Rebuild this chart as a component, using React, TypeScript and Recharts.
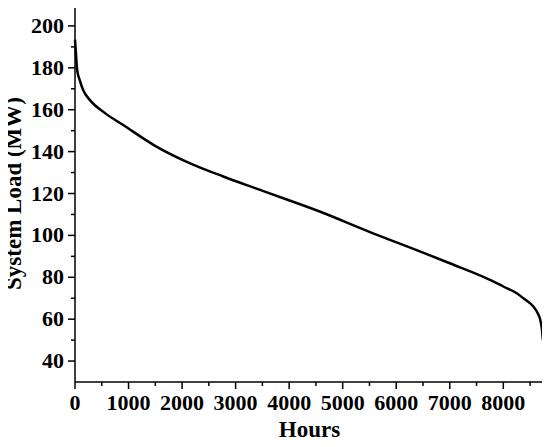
import React from "react";
import { LineChart, Line, XAxis, YAxis } from "recharts";

// 부하 지속 곡선 (hours vs MW)
const hours = [
  0, 15, 40, 90, 150, 276, 555, 900, 1520, 2140, 2770, 3390, 4570,
  5510, 6440, 7000, 7750, 8000, 8250, 8400, 8560, 8650, 8690, 8720, 8740,
];
const loadMW = [
  193.5, 188, 179, 174, 169.5, 164.7, 158.5, 152.7, 142.4, 134.5, 128.1, 122.3,
  111.4, 101.6, 92.4, 86.7, 78.8, 75.6, 72.4, 69.5, 66, 62.5, 59.7, 55.5,
  50,
];

const xTicks = [
  0, 500, 1000, 1500, 2000, 2500, 3000, 3500, 4000, 4500, 5000, 5500, 6000,
  6500, 7000, 7500, 8000, 8500,
];
const yTicks = [40, 50, 60, 70, 80, 90, 100, 110, 120, 130, 140, 150, 160, 170, 180, 190, 200];

const data = hours.map((h, i) => ({ hours: h, load: loadMW[i] }));

const FONT = "'Palatino Linotype', 'Book Antiqua', Palatino, 'Liberation Serif', serif";

// 큰 눈금(라벨 있음) / 작은 눈금
const XTick = ({ x, y, payload }: any) => {
  const major = payload.value % 1000 === 0;
  return (
    <g>
      <line x1={x} x2={x} y1={y} y2={y + (major ? 7 : 4)} stroke="#000" strokeWidth={1.5} />
      {major && (
        <text x={x} y={y + 28} textAnchor="middle" fontFamily={FONT} fontWeight="bold" fontSize={22} fill="#000">
          {payload.value}
        </text>
      )}
    </g>
  );
};

const YTick = ({ x, y, payload }: any) => {
  const major = payload.value % 20 === 0;
  return (
    <g>
      <line x1={x} x2={x - (major ? 7 : 4)} y1={y} y2={y} stroke="#000" strokeWidth={1.5} />
      {major && (
        <text x={x - 11} y={y + 7} textAnchor="end" fontFamily={FONT} fontWeight="bold" fontSize={22} fill="#000">
          {payload.value}
        </text>
      )}
    </g>
  );
};

const YTitle = ({ viewBox }: any) => {
  const cy = viewBox.y + viewBox.height / 2;
  return (
    <text
      x={21}
      y={cy}
      transform={`rotate(-90, 21, ${cy})`}
      textAnchor="middle"
      fontFamily={FONT}
      fontWeight="bold"
      fontSize={23}
      fill="#000"
    >
      System Load (MW)
    </text>
  );
};

const XTitle = ({ viewBox }: any) => (
  <text
    x={viewBox.x + viewBox.width / 2}
    y={viewBox.y + 55}
    textAnchor="middle"
    fontFamily={FONT}
    fontWeight="bold"
    fontSize={23}
    fill="#000"
  >
    Hours
  </text>
);

export default function App() {
  return (
    <div style={{ margin: -8, background: "#fff", width: 550, height: 447 }}>
      <LineChart width={550} height={447} data={data} margin={{ top: 5, right: 6, left: 0, bottom: 0 }}>
        <XAxis
          dataKey="hours"
          type="number"
          domain={[0, 8760]}
          ticks={xTicks}
          interval={0}
          tickSize={0}
          tickMargin={0}
          tickLine={false}
          tick={<XTick />}
          height={65}
          axisLine={{ stroke: "#000", strokeWidth: 1.5 }}
          label={{ content: <XTitle /> }}
        />
        <YAxis
          type="number"
          domain={[30, 210]}
          ticks={yTicks}
          interval={0}
          tickSize={0}
          tickMargin={0}
          tickLine={false}
          tick={<YTick />}
          width={75}
          axisLine={{ stroke: "#000", strokeWidth: 1.5 }}
          label={{ content: <YTitle /> }}
        />
        <Line
          type="monotone"
          dataKey="load"
          stroke="#000"
          strokeWidth={2.5}
          dot={false}
          isAnimationActive={false}
        />
      </LineChart>
    </div>
  );
}
